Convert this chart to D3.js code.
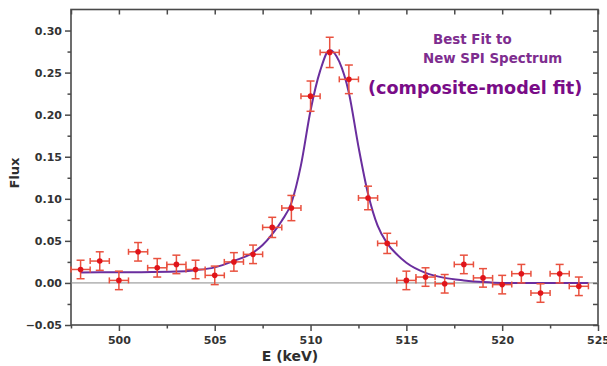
<!DOCTYPE html>
<html>
<head>
<meta charset="utf-8">
<script src="https://cdn.jsdelivr.net/npm/d3@7"></script>
<style>
  html, body { margin: 0; padding: 0; background: #fff; }
  svg text { font-family: "DejaVu Sans", sans-serif; font-weight: bold; }
</style>
</head>
<body>
<div id="chart"></div>
<script>
// measured spectrum points (keV, flux, 1-sigma flux error)
const energy = [498, 499, 500, 501, 502, 503, 504, 505, 506, 507, 508, 509, 510, 511, 512,
  513, 514, 515, 516, 517, 518, 519, 520, 521, 522, 523, 524];
const flux = [0.016, 0.026, 0.003, 0.037, 0.018, 0.022, 0.016, 0.009, 0.025, 0.034, 0.066, 0.089, 0.222, 0.274, 0.242,
  0.101, 0.047, 0.003, 0.007, -0.001, 0.022, 0.006, -0.002, 0.011, -0.012, 0.011, -0.004];
const fluxErr = [0.011, 0.011, 0.011, 0.011, 0.011, 0.011, 0.011, 0.011, 0.011, 0.011, 0.012, 0.015, 0.018, 0.018, 0.017,
  0.014, 0.012, 0.011, 0.011, 0.011, 0.011, 0.011, 0.011, 0.011, 0.011, 0.011, 0.011];
const energyHalfBin = 0.5;

// best-fit curve
const fitE = [498, 499, 501, 503, 504, 505, 506, 507, 507.5, 508, 508.5, 509, 509.5, 510, 510.5, 511,
  511.5, 512, 512.5, 513, 513.5, 514, 514.5, 515, 516, 517, 518, 519, 520, 524.5];
const fitFlux = [0.0125, 0.0126, 0.0128, 0.0135, 0.0152, 0.0185, 0.0262, 0.036, 0.045, 0.058, 0.074, 0.095, 0.140, 0.205, 0.252, 0.277,
  0.263, 0.226, 0.162, 0.106, 0.068, 0.047, 0.034, 0.024, 0.012, 0.006, 0.003, 0.001, 0.0, 0.0];

const xTicks = [500, 505, 510, 515, 520, 525];
const xMinor = [497.5, 502.5, 507.5, 512.5, 517.5, 522.5];
const yTicks = [-0.05, 0, 0.05, 0.10, 0.15, 0.20, 0.25, 0.30];
const yMinor = [-0.025, 0.025, 0.075, 0.125, 0.175, 0.225, 0.275];

const W = 607, H = 366;
const margin = { top: 9.5, right: 9, bottom: 41, left: 71 };
const w = W - margin.left - margin.right;
const h = H - margin.top - margin.bottom;

const svg = d3.select('#chart').append('svg').attr('width', W).attr('height', H);
const g = svg.append('g').attr('transform', `translate(${margin.left},${margin.top})`);

const x = d3.scaleLinear().domain([497.5, 525]).range([0, w]);
const y = d3.scaleLinear().domain([-0.05, 0.325]).range([h, 0]);

const axisColor = '#4a4a4a';
const fmtY = d3.format('.2f');

function styleAxis(sel) {
  sel.select('.domain').remove();
  sel.selectAll('line').attr('stroke', axisColor).attr('stroke-width', 1.5);
  sel.selectAll('text').attr('fill', '#333').style('font-size', '11px');
}

// bottom
g.append('g').attr('transform', `translate(0,${h})`)
  .call(d3.axisBottom(x).tickValues(xTicks).tickSize(6).tickPadding(5).tickFormat(d3.format('d')))
  .call(styleAxis);
g.append('g').attr('transform', `translate(0,${h})`)
  .call(d3.axisBottom(x).tickValues(xMinor).tickSize(3.5).tickFormat(''))
  .call(styleAxis);
// left
g.append('g')
  .call(d3.axisLeft(y).tickValues(yTicks).tickSize(6).tickPadding(3).tickFormat(fmtY))
  .call(styleAxis);
g.append('g')
  .call(d3.axisLeft(y).tickValues(yMinor).tickSize(3.5).tickFormat(''))
  .call(styleAxis);
// top & right, ticks inward
g.append('g')
  .call(d3.axisTop(x).tickValues(xTicks.concat(xMinor)).tickSize(-5).tickFormat(''))
  .call(styleAxis);
g.append('g').attr('transform', `translate(${w},0)`)
  .call(d3.axisRight(y).tickValues(yTicks.concat(yMinor)).tickSize(-5).tickFormat(''))
  .call(styleAxis);

// frame
g.append('rect').attr('width', w).attr('height', h)
  .attr('fill', 'none').attr('stroke', axisColor).attr('stroke-width', 1.6);

// zero line
g.append('line').attr('x1', 0).attr('x2', w).attr('y1', y(0)).attr('y2', y(0))
  .attr('stroke', '#8a8a8a').attr('stroke-width', 1);

// fit curve
const fit = fitE.map((e, i) => [e, fitFlux[i]]);
g.append('path').datum(fit)
  .attr('fill', 'none').attr('stroke', '#6a2e9e').attr('stroke-width', 2)
  .attr('d', d3.line().x(d => x(d[0])).y(d => y(d[1])).curve(d3.curveMonotoneX));

// data points with error bars
const pts = energy.map((e, i) => ({ e, f: flux[i], err: fluxErr[i] }));
const errColor = '#e9513f';
const pg = g.selectAll('.pt').data(pts).join('g').attr('class', 'pt');
pg.append('line')
  .attr('x1', d => x(d.e - energyHalfBin)).attr('x2', d => x(d.e + energyHalfBin))
  .attr('y1', d => y(d.f)).attr('y2', d => y(d.f));
pg.append('line')
  .attr('x1', d => x(d.e)).attr('x2', d => x(d.e))
  .attr('y1', d => y(d.f - d.err)).attr('y2', d => y(d.f + d.err));
// caps
pg.selectAll('.hcap').data(d => [d.e - energyHalfBin, d.e + energyHalfBin].map(v => ({ v, f: d.f })))
  .join('line').attr('class', 'hcap')
  .attr('x1', d => x(d.v)).attr('x2', d => x(d.v))
  .attr('y1', d => y(d.f) - 3).attr('y2', d => y(d.f) + 3);
pg.selectAll('.vcap').data(d => [d.f - d.err, d.f + d.err].map(v => ({ v, e: d.e })))
  .join('line').attr('class', 'vcap')
  .attr('x1', d => x(d.e) - 4).attr('x2', d => x(d.e) + 4)
  .attr('y1', d => y(d.v)).attr('y2', d => y(d.v));
pg.selectAll('line').attr('stroke', errColor).attr('stroke-width', 1.5);
pg.append('circle').attr('cx', d => x(d.e)).attr('cy', d => y(d.f)).attr('r', 2.8).attr('fill', '#e0141a');

// axis titles
svg.append('text').attr('x', 290).attr('y', 361).attr('text-anchor', 'middle')
  .attr('fill', '#2e2e2e').style('font-size', '14px').text('E (keV)');
svg.append('text').attr('transform', 'translate(19,173) rotate(-90)').attr('text-anchor', 'middle')
  .attr('fill', '#2e2e2e').style('font-size', '13px').text('Flux');

// annotation
svg.append('text').attr('x', 433).attr('y', 44).attr('fill', '#7e2d8f')
  .style('font-size', '13.4px').text('Best Fit to');
svg.append('text').attr('x', 423).attr('y', 62.5).attr('fill', '#7e2d8f')
  .style('font-size', '13.4px').text('New SPI Spectrum');
svg.append('text').attr('x', 368).attr('y', 94).attr('fill', '#790c87')
  .style('font-size', '17.6px').text('(composite-model fit)');
</script>
</body>
</html>
